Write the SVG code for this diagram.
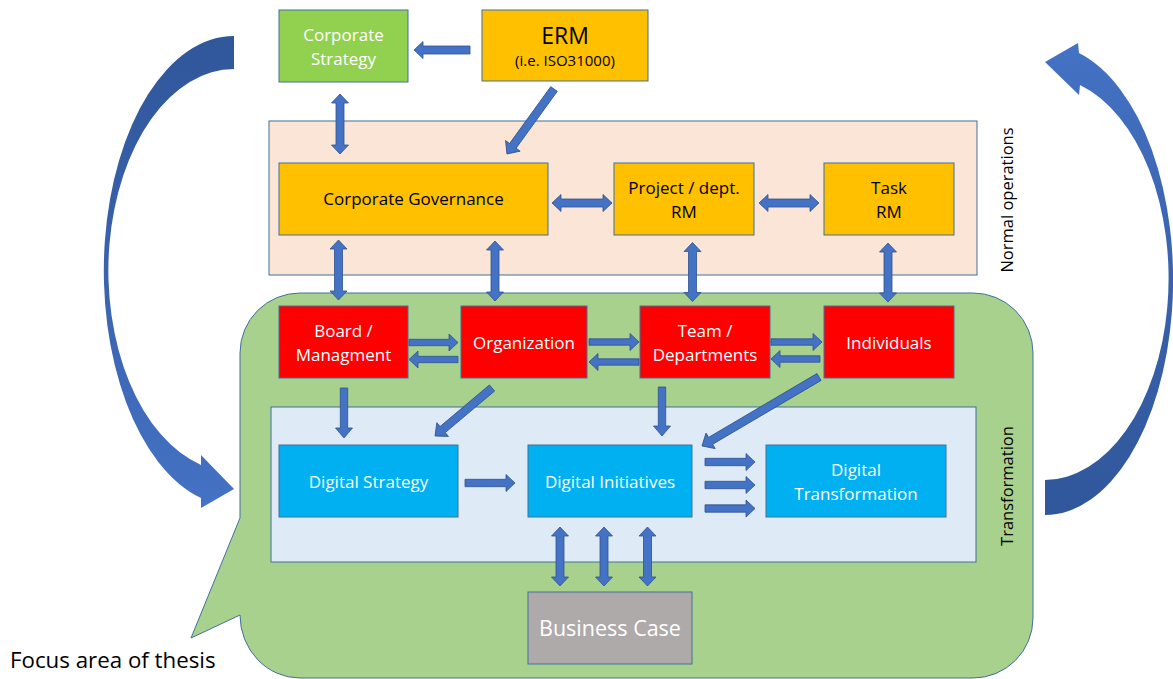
<svg xmlns="http://www.w3.org/2000/svg" width="1173" height="679" viewBox="0 0 1173 679">
<style>
.box{stroke:#41719C;stroke-width:1}
.ba{fill:#4472C4;stroke:#2F528F;stroke-width:0.8}
.t{font-family:"Open Sans","Noto Sans",sans-serif;font-size:17px;text-anchor:middle}
.w{fill:#FFFFFF}
.k{fill:#000000}
</style>
<defs>
<linearGradient id="gl" gradientUnits="userSpaceOnUse" x1="0" y1="36" x2="0" y2="508">
<stop offset="0" stop-color="#30579A"/><stop offset="0.5" stop-color="#3A62AE"/><stop offset="1" stop-color="#4472C4"/>
</linearGradient>
<linearGradient id="gr" gradientUnits="userSpaceOnUse" x1="0" y1="43" x2="0" y2="515">
<stop offset="0" stop-color="#4472C4"/><stop offset="0.5" stop-color="#3A62AE"/><stop offset="1" stop-color="#30579A"/>
</linearGradient>
</defs>
<rect width="1173" height="679" fill="#FFFFFF"/>

<g id="cycle-arrows">
<path d="M234,36 A130,234.8 0 0 0 201,498 L201,508 L234,489 L201,455 L201,465 A126,201.6 0 0 1 234,69 Z" fill="url(#gl)"/>
<path d="M1045,515 A128,235.2 0 0 0 1079,53 L1078,43 L1045,62 L1079,95 L1080,85 A124,201.7 0 0 1 1045,480 Z" fill="url(#gr)"/>
</g>

<g id="normal-operations">
<rect class="box" x="269" y="121" width="708" height="154" fill="#FBE5D6"/>
<text class="t k" transform="translate(1013,200) rotate(-90)" style="font-size:16.5px">Normal operations</text>
</g>

<g id="transformation">
<path class="box" fill="#A9D18E" d="M300,293 H973 A60,60 0 0 1 1033,353 V618 A60,60 0 0 1 973,678 H300 A60,63 0 0 1 240,615 L191,638 L240,518 V353 A60,60 0 0 1 300,293 Z"/>
<rect class="box" x="271" y="407" width="705" height="155" fill="#DEEBF7"/>
<text class="t k" transform="translate(1013,486) rotate(-90)" style="font-size:16.5px">Transformation</text>
</g>

<g id="corporate-strategy">
<rect class="box" x="279" y="10" width="129" height="72" fill="#92D050"/>
<text class="t w" x="343.5" y="41">Corporate</text>
<text class="t w" x="343.5" y="65">Strategy</text>
</g>
<g id="erm">
<rect class="box" x="482" y="10" width="166" height="71" fill="#FFC000"/>
<text class="t k" x="565" y="44" style="font-size:23px">ERM</text>
<text class="t k" x="565" y="66" style="font-size:15px">(i.e. ISO31000)</text>
</g>
<g id="corporate-governance">
<rect class="box" x="279" y="163" width="269" height="72" fill="#FFC000"/>
<text class="t k" x="413.5" y="205">Corporate Governance</text>
</g>
<g id="project-rm">
<rect class="box" x="614" y="163" width="140" height="72" fill="#FFC000"/>
<text class="t k" x="684" y="194">Project / dept.</text>
<text class="t k" x="684" y="218">RM</text>
</g>
<g id="task-rm">
<rect class="box" x="824" y="163" width="130" height="72" fill="#FFC000"/>
<text class="t k" x="889" y="194">Task</text>
<text class="t k" x="889" y="218">RM</text>
</g>

<g id="board">
<rect class="box" x="279" y="306" width="129" height="72" fill="#FF0000"/>
<text class="t w" x="343.5" y="337">Board /</text>
<text class="t w" x="343.5" y="361">Managment</text>
</g>
<g id="organization">
<rect class="box" x="461" y="306" width="126" height="72" fill="#FF0000"/>
<text class="t w" x="524" y="349">Organization</text>
</g>
<g id="team">
<rect class="box" x="640" y="306" width="130" height="72" fill="#FF0000"/>
<text class="t w" x="705" y="337">Team /</text>
<text class="t w" x="705" y="361">Departments</text>
</g>
<g id="individuals">
<rect class="box" x="824" y="306" width="130" height="72" fill="#FF0000"/>
<text class="t w" x="889" y="349">Individuals</text>
</g>

<g id="digital-strategy">
<rect class="box" x="279" y="445" width="179" height="72" fill="#00B0F0"/>
<text class="t w" x="368.5" y="488">Digital Strategy</text>
</g>
<g id="digital-initiatives">
<rect class="box" x="528" y="445" width="164" height="72" fill="#00B0F0"/>
<text class="t w" x="610" y="488">Digital Initiatives</text>
</g>
<g id="digital-transformation">
<rect class="box" x="766" y="445" width="180" height="72" fill="#00B0F0"/>
<text class="t w" x="856" y="476">Digital</text>
<text class="t w" x="856" y="500">Transformation</text>
</g>
<g id="business-case">
<rect class="box" x="528" y="592" width="164" height="72" fill="#AEAAAA"/>
<text class="t w" x="610" y="636" style="font-size:21.5px">Business Case</text>
</g>

<g id="connectors">
<path class="ba" d="M470,46 H423 V41.5 L414,50 L423,58.5 V54 H470 Z"/>
<path class="ba" d="M340,94 L348.5,103 H344 V145 H348.5 L340,154 L331.5,145 H336 V103 H331.5 Z"/>
<path class="ba" transform="translate(554,89) rotate(125.9)" d="M0,-4 H70.2 V-9 L80.2,0 L70.2,9 V4 H0 Z"/>
<path class="ba" d="M552,203 L561,194.5 V199 H603 V194.5 L612,203 L603,211.5 V207 H561 V211.5 Z"/>
<path class="ba" d="M759,203 L768,194.5 V199 H810 V194.5 L819,203 L810,211.5 V207 H768 V211.5 Z"/>
<path class="ba" d="M338.5,240 L347,249 H342.5 V291 H347 L338.5,300 L330,291 H334.5 V249 H330 Z"/>
<path class="ba" d="M495,241 L503.5,250 H499 V292 H503.5 L495,301 L486.5,292 H491 V250 H486.5 Z"/>
<path class="ba" d="M692.5,242.5 L701,251.5 H696.5 V292.5 H701 L692.5,301.5 L684,292.5 H688.5 V251.5 H684 Z"/>
<path class="ba" d="M888,243 L896.5,252 H892 V293 H896.5 L888,302 L879.5,293 H884 V252 H879.5 Z"/>
<path class="ba" d="M409,339.3 H449 V334 L458,342.5 L449,351 V345.7 H409 Z"/>
<path class="ba" d="M458,356.3 H418 V351 L409,359.5 L418,368 V362.7 H458 Z"/>
<path class="ba" d="M589,338.8 H630 V333.5 L639,342 L630,350.5 V345.2 H589 Z"/>
<path class="ba" d="M639,358.8 H598 V353.5 L589,362 L598,370.5 V365.2 H639 Z"/>
<path class="ba" d="M771,338.8 H813 V333.5 L822,342 L813,350.5 V345.2 H771 Z"/>
<path class="ba" d="M820,355.8 H780 V350.5 L771,359 L780,367.5 V362.2 H820 Z"/>
<path class="ba" d="M340.3,388 V428 H335.5 L344,438 L352.5,428 H347.7 V388 Z"/>
<path class="ba" transform="translate(492,388) rotate(139.9)" d="M0,-4 H64.5 V-9 L74.5,0 L64.5,9 V4 H0 Z"/>
<path class="ba" d="M658.3,387 V426 H653.5 L662,436 L670.5,426 H665.7 V387 Z"/>
<path class="ba" transform="translate(819,377) rotate(149.5)" d="M0,-4 H125.8 V-9 L135.8,0 L125.8,9 V4 H0 Z"/>
<path class="ba" d="M465,479.3 H506 V474.5 L515,483 L506,491.5 V486.7 H465 Z"/>
<path class="ba" d="M705,458.3 H746 V453.5 L755,462 L746,470.5 V465.7 H705 Z"/>
<path class="ba" d="M705,481.3 H746 V476.5 L755,485 L746,493.5 V488.7 H705 Z"/>
<path class="ba" d="M705,504.8 H746 V500 L755,508.5 L746,517 V512.2 H705 Z"/>
<path class="ba" d="M560,527 L568.5,536 H564 V577 H568.5 L560,586 L551.5,577 H556 V536 H551.5 Z"/>
<path class="ba" d="M604,527 L612.5,536 H608 V577 H612.5 L604,586 L595.5,577 H600 V536 H595.5 Z"/>
<path class="ba" d="M647.5,527 L656,536 H651.5 V577 H656 L647.5,586 L639,577 H643.5 V536 H639 Z"/>
</g>

<g id="focus-label">
<text x="10" y="668" style="font-family:'Open Sans','Noto Sans',sans-serif;font-size:22.3px" fill="#000000">Focus area of thesis</text>
</g>
</svg>
